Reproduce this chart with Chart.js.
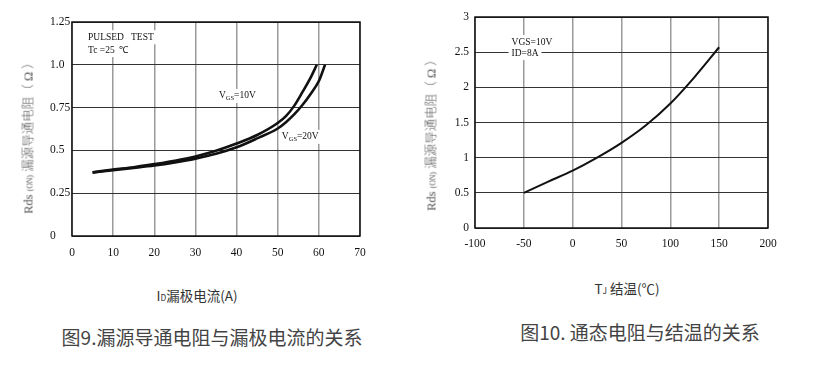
<!DOCTYPE html>
<html>
<head>
<meta charset="utf-8">
<script src="https://cdn.jsdelivr.net/npm/chart.js@4.4.1/dist/chart.umd.min.js"></script>
<style>
  body { margin: 0; background: #fff; width: 818px; height: 377px; position: relative; overflow: hidden; font-family: "Noto Sans CJK SC", sans-serif; }
  .box { position: absolute; }
  .t { position: absolute; white-space: nowrap; color: #333; transform: translate(-50%, -50%); }
  .ytitle { font-family: "Liberation Serif", "Noto Sans CJK SC", serif; font-size: 12.5px; font-weight: 300; color: #555; transform: translate(-50%, -50%) rotate(-90deg); }
  .sm { font-size: 0.62em; }
</style>
</head>
<body>
<div class="box" style="left:0;top:0;width:380px;height:270px"><canvas id="c1"></canvas></div>
<div class="box" style="left:400px;top:0;width:390px;height:270px"><canvas id="c2"></canvas></div>

<div class="t ytitle" style="left:27px;top:135px">Rds <span class="sm">(ON)</span> 漏源导通电阻（ Ω ）</div>
<div class="t ytitle" style="left:430px;top:132px">Rds <span class="sm">(ON)</span> 漏源导通电阻（ Ω ）</div>
<div class="t" style="left:197px;top:295px;font-size:13.5px">I<span class="sm">D</span>漏极电流(A)</div>
<div class="t" style="left:627px;top:288px;font-size:13.5px">T<span class="sm">J</span> 结温(℃)</div>
<div class="t" style="left:212px;top:336px;font-size:19px;color:#444">图9.漏源导通电阻与漏极电流的关系</div>
<div class="t" style="left:640px;top:331px;font-size:19px;color:#444">图10. 通态电阻与结温的关系</div>

<script>
// Fig 9: Rds(on) vs drain current
const drainCurrent10 = [5, 10, 15, 20, 25, 30, 35, 40, 45, 50, 52, 54, 56, 58, 59.5];
const rdsVgs10 = [0.372, 0.388, 0.402, 0.42, 0.44, 0.465, 0.498, 0.54, 0.59, 0.66, 0.70, 0.76, 0.84, 0.925, 1.0];
const drainCurrent20 = [5, 10, 15, 20, 25, 30, 35, 40, 45, 50, 52, 54, 56, 58, 60, 61.5];
const rdsVgs20 = [0.37, 0.385, 0.398, 0.412, 0.43, 0.452, 0.48, 0.518, 0.57, 0.628, 0.665, 0.71, 0.765, 0.83, 0.905, 1.0];
const fig9XTicks = [0, 10, 20, 30, 40, 50, 60, 70];
const fig9YTicks = [0, 0.25, 0.5, 0.75, 1.0, 1.25];
const fig9YLabels = ["0", "0.25", "0.5", "0.75", "1.0", "1.25"];

// Fig 10: Rds(on) vs junction temperature
const junctionTemp = [-50, -25, 0, 25, 50, 75, 100, 125, 150];
const rdsTemp = [0.5, 0.66, 0.815, 1.0, 1.21, 1.46, 1.77, 2.15, 2.57];
const fig10XTicks = [-100, -50, 0, 50, 100, 150, 200];
const fig10YTicks = [0, 0.5, 1, 1.5, 2, 2.5, 3];

function toPoints(xs, ys) {
    return xs.map((x, i) => ({ x: x, y: ys[i] }));
}

// text notes inside the plots, white box behind them
const notesPlugin = {
    id: "notes",
    beforeDatasetsDraw(chart, args, opts) {
        const ctx = chart.ctx;
        const xs = chart.scales.x, ys = chart.scales.y;
        ctx.save();
        (opts.items || []).forEach(n => {
            const px = xs.getPixelForValue(n.x), py = ys.getPixelForValue(n.y);
            let w = 0;
            n.parts.forEach(p => {
                ctx.font = (p[1] ? 6.5 : 9.5) + "px 'Liberation Serif'";
                w += ctx.measureText(p[0]).width;
            });
            ctx.fillStyle = "#fff";
            ctx.fillRect(px - 3, py - 7, w + 6, 14);
            let cx = px;
            ctx.fillStyle = "#111";
            ctx.textBaseline = "middle";
            n.parts.forEach(p => {
                ctx.font = (p[1] ? 6.5 : 9.5) + "px 'Liberation Serif'";
                ctx.fillText(p[0], cx, p[1] ? py + 2 : py);
                cx += ctx.measureText(p[0]).width;
            });
        });
        // frame
        const a = chart.chartArea;
        ctx.strokeStyle = "#111";
        ctx.lineWidth = 1.5;
        ctx.strokeRect(a.left, a.top, a.right - a.left, a.bottom - a.top);
        ctx.restore();
    }
};

function makeChart(id, cfg) {
    new Chart(id, {
        type: "scatter",
        data: {
            datasets: cfg.series.map(s => ({
                data: s,
                showLine: true,
                borderColor: "#111",
                borderWidth: cfg.lineWidth,
                pointRadius: 0,
                cubicInterpolationMode: "monotone"
            }))
        },
        options: {
            responsive: true,
            maintainAspectRatio: false,
            animation: false,
            layout: { padding: cfg.padding },
            plugins: {
                legend: { display: false },
                tooltip: { enabled: false },
                notes: { items: cfg.notes }
            },
            scales: {
                x: {
                    type: "linear",
                    min: cfg.xTicks[0],
                    max: cfg.xTicks[cfg.xTicks.length - 1],
                    afterBuildTicks: s => { s.ticks = cfg.xTicks.map(v => ({ value: v })); },
                    afterFit: s => { s.height = cfg.xHeight; },
                    grid: { color: "#9a9a9a", lineWidth: 1.5, drawTicks: false },
                    border: { display: false },
                    ticks: {
                        padding: cfg.xPad,
                        color: "#111",
                        maxRotation: 0,
                        font: { family: "Liberation Serif", size: 11.5 }
                    }
                },
                y: {
                    type: "linear",
                    min: cfg.yTicks[0],
                    max: cfg.yTicks[cfg.yTicks.length - 1],
                    afterBuildTicks: s => { s.ticks = cfg.yTicks.map(v => ({ value: v })); },
                    afterFit: s => { s.width = cfg.yWidth; },
                    grid: { color: "#333", lineWidth: 1, drawTicks: false },
                    border: { display: false },
                    ticks: {
                        padding: cfg.yPad,
                        crossAlign: cfg.yAlign,
                        color: "#111",
                        font: { family: "Liberation Serif", size: 11.5 },
                        callback: cfg.yLabel
                    }
                }
            }
        },
        plugins: [notesPlugin]
    });
}

makeChart("c1", {
    series: [toPoints(drainCurrent10, rdsVgs10), toPoints(drainCurrent20, rdsVgs20)],
    lineWidth: 2.6,
    xTicks: fig9XTicks,
    yTicks: fig9YTicks,
    yLabel: v => fig9YLabels[fig9YTicks.indexOf(v)],
    padding: { left: 50, top: 22, right: 20, bottom: 0 },
    yWidth: 22,
    yAlign: "far",
    yPad: 4,
    xHeight: 34,
    xPad: 10,
    notes: [
        { x: 3.9, y: 1.161, parts: [["PULSED   TEST"]] },
        { x: 3.9, y: 1.086, parts: [["Tc =25  ℃"]] },
        { x: 35.7, y: 0.818, parts: [["V"], ["GS", true], ["=10V"]] },
        { x: 51.0, y: 0.579, parts: [["V"], ["GS", true], ["=20V"]] }
    ]
});

makeChart("c2", {
    series: [toPoints(junctionTemp, rdsTemp)],
    lineWidth: 2,
    xTicks: fig10XTicks,
    yTicks: fig10YTicks,
    yLabel: v => String(v),
    padding: { left: 0, top: 17, right: 22, bottom: 0 },
    yWidth: 75,
    yAlign: "near",
    yPad: 6,
    xHeight: 42,
    xPad: 9,
    notes: [
        { x: -62.6, y: 2.644, parts: [["VGS=10V"]] },
        { x: -62.6, y: 2.487, parts: [["ID=8A"]] }
    ]
});
</script>
</body>
</html>
